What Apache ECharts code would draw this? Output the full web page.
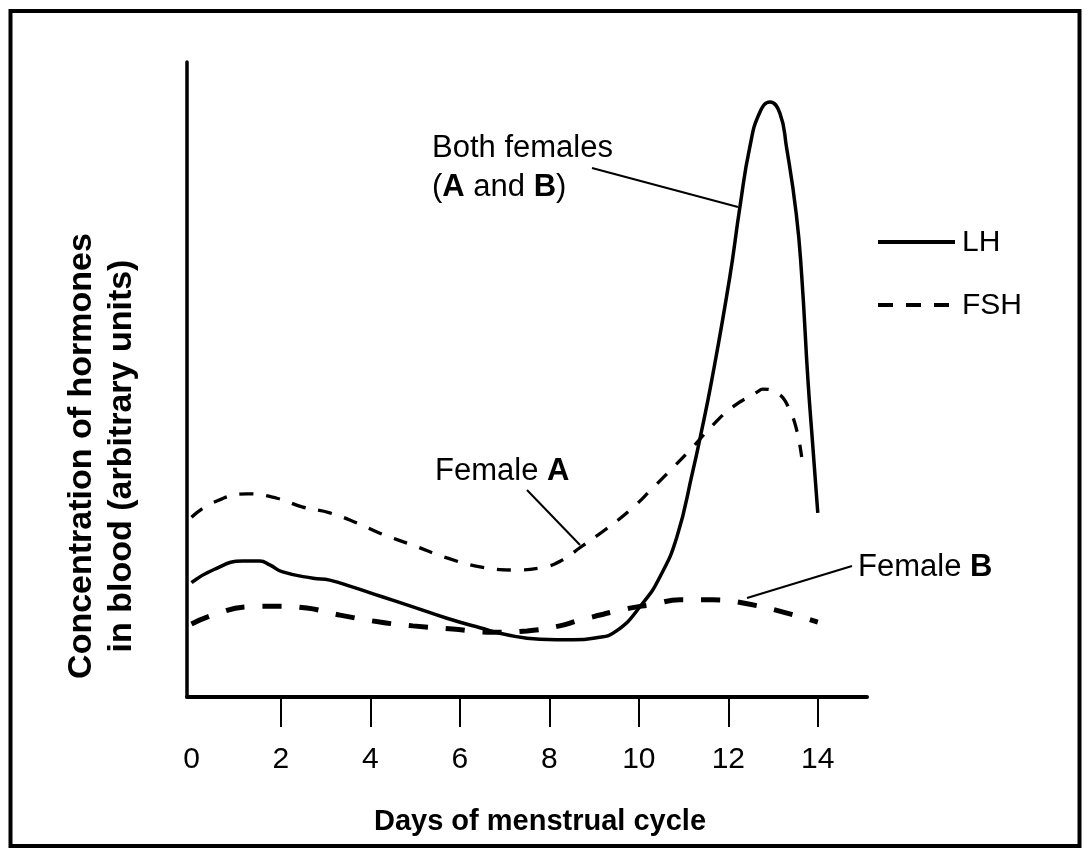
<!DOCTYPE html>
<html>
<head>
<meta charset="utf-8">
<title>LH and FSH</title>
<script src="https://cdn.jsdelivr.net/npm/echarts@6/dist/echarts.min.js"></script>
<style>
  html, body { margin: 0; padding: 0; background: #fff; }
  #chart { width: 1090px; height: 856px; }
</style>
</head>
<body>
<div id="chart"></div>
<script>
// days of cycle and concentration (arbitrary units, 0-100)
var lhDays   = [0, 0.48, 1.15, 1.53, 1.75, 2.04, 2.72, 3.09, 3.61, 4.21, 4.95, 5.71, 6.45, 7.05, 7.79, 8.53, 9.02, 9.5, 10.09, 10.47, 10.85, 11.21, 11.36, 11.63, 12.03, 12.26, 12.48, 12.7, 12.93, 13.15, 13.3, 13.52, 13.64, 13.78, 13.89, 14.0];
var lhValues = [18.0, 20.0, 21.4, 21.4, 20.8, 19.7, 18.7, 18.4, 17.3, 15.9, 14.2, 12.4, 10.9, 9.8, 9.1, 9.0, 9.3, 10.4, 14.8, 18.9, 25.2, 35.7, 40.5, 49.9, 66.0, 77.2, 86.6, 92.0, 93.7, 92.0, 86.6, 76.0, 66.4, 49.9, 39.4, 29.0];

var fshADays   = [0, 0.48, 1.24, 1.91, 2.49, 3.09, 3.7, 4.21, 4.95, 5.71, 6.45, 7.18, 7.79, 8.3, 8.68, 9.24, 9.8, 10.31, 10.76, 11.21, 11.65, 12.1, 12.64, 12.77, 13.15, 13.37, 13.53, 13.64];
var fshAValues = [28.3, 30.6, 32.0, 31.3, 29.9, 29.0, 27.4, 25.8, 23.9, 21.9, 20.5, 20.0, 20.3, 21.6, 23.5, 26.3, 29.4, 32.9, 36.1, 39.4, 42.8, 45.7, 48.0, 48.5, 47.6, 45.2, 42.0, 37.8];

var fshBDays   = [0, 0.48, 1.24, 1.82, 2.58, 3.32, 4.21, 4.95, 5.84, 6.74, 7.5, 8.23, 8.68, 9.8, 10.25, 10.92, 11.65, 12.48, 13.31, 14.0];
var fshBValues = [11.5, 12.9, 14.2, 14.3, 14.0, 12.9, 11.8, 11.2, 10.7, 10.2, 10.4, 11.2, 12.1, 14.0, 14.5, 15.3, 15.3, 14.6, 13.2, 11.8];

var xLabelDays = [0, 2, 4, 6, 8, 10, 12, 14];
var xTickDays  = [2, 4, 6, 8, 10, 12, 14];

var FONT = '"Liberation Sans", Arial, Helvetica, sans-serif';

function zip(xs, ys) {
    return xs.map(function (x, i) { return [x, ys[i]]; });
}

var myChart = echarts.init(document.getElementById('chart'), null, { renderer: 'canvas' });

var option = {
    animation: false,
    backgroundColor: '#fff',
    grid: { left: 187, top: 62, width: 680, height: 635, containLabel: false },
    xAxis: {
        type: 'value',
        min: -0.1,
        max: 15.1,
        axisLine: { show: true, onZero: false, lineStyle: { color: '#000', width: 4 } },
        axisTick: { show: true, length: 30, customValues: xTickDays, lineStyle: { color: '#000', width: 2 } },
        axisLabel: { customValues: xLabelDays, margin: 48, color: '#000', fontSize: 30, fontFamily: FONT },
        splitLine: { show: false }
    },
    yAxis: {
        type: 'value',
        min: 0,
        max: 100,
        axisLine: { show: true, onZero: false, lineStyle: { color: '#000', width: 3.5 } },
        axisTick: { show: false },
        axisLabel: { show: false },
        splitLine: { show: false }
    },
    series: [
        {
            name: 'LH',
            type: 'line',
            data: zip(lhDays, lhValues),
            showSymbol: false,
            smooth: 0.5,
            lineStyle: { color: '#000', width: 3.5 }
        },
        {
            name: 'FSH female A',
            type: 'line',
            data: zip(fshADays, fshAValues),
            showSymbol: false,
            smooth: 0.45,
            lineStyle: { color: '#000', width: 3.3, type: [14, 13] }
        },
        {
            name: 'FSH female B',
            type: 'line',
            data: zip(fshBDays, fshBValues),
            showSymbol: false,
            smooth: 0.45,
            lineStyle: { color: '#000', width: 5, type: [19, 18] }
        }
    ],
    graphic: [
        // frame
        { type: 'rect', shape: { x: 10.5, y: 11, width: 1069, height: 835 }, style: { fill: 'none', stroke: '#000', lineWidth: 4 }, silent: true },
        // axis titles
        {
            type: 'text', x: 540, y: 822,
            style: { text: 'Days of menstrual cycle', fill: '#000', fontSize: 29, fontWeight: 'bold', fontFamily: FONT, align: 'center', verticalAlign: 'middle' }
        },
        {
            type: 'text', x: 102, y: 456, rotation: Math.PI / 2,
            style: { text: 'Concentration of hormones\nin blood (arbitrary units)', fill: '#000', fontSize: 34, fontWeight: 'bold', fontFamily: FONT, align: 'center', verticalAlign: 'middle', lineHeight: 40 }
        },
        // legend
        { type: 'line', shape: { x1: 878, y1: 242, x2: 955, y2: 242 }, style: { stroke: '#000', lineWidth: 4 } },
        { type: 'text', x: 962, y: 243, style: { text: 'LH', fill: '#000', fontSize: 30, fontFamily: FONT, verticalAlign: 'middle' } },
        { type: 'line', shape: { x1: 878, y1: 305, x2: 951, y2: 305 }, style: { stroke: '#000', lineWidth: 4, lineDash: [15, 13] } },
        { type: 'text', x: 962, y: 306, style: { text: 'FSH', fill: '#000', fontSize: 30, fontFamily: FONT, verticalAlign: 'middle' } },
        // annotations
        {
            type: 'text', x: 432, y: 168,
            style: {
                text: 'Both females\n({b|A} and {b|B})', fill: '#000', fontSize: 31, fontFamily: FONT, verticalAlign: 'middle', lineHeight: 39,
                rich: { b: { fontSize: 31, fontFamily: FONT, fontWeight: 'bold', fill: '#000' } }
            }
        },
        { type: 'line', shape: { x1: 592, y1: 168, x2: 738, y2: 207 }, style: { stroke: '#000', lineWidth: 2 } },
        {
            type: 'text', x: 435, y: 471,
            style: {
                text: 'Female {b|A}', fill: '#000', fontSize: 31, fontFamily: FONT, verticalAlign: 'middle',
                rich: { b: { fontSize: 31, fontFamily: FONT, fontWeight: 'bold', fill: '#000' } }
            }
        },
        { type: 'line', shape: { x1: 527, y1: 490, x2: 580, y2: 545 }, style: { stroke: '#000', lineWidth: 2 } },
        {
            type: 'text', x: 858, y: 567,
            style: {
                text: 'Female {b|B}', fill: '#000', fontSize: 31, fontFamily: FONT, verticalAlign: 'middle',
                rich: { b: { fontSize: 31, fontFamily: FONT, fontWeight: 'bold', fill: '#000' } }
            }
        },
        { type: 'line', shape: { x1: 747, y1: 598, x2: 852, y2: 566 }, style: { stroke: '#000', lineWidth: 2 } }
    ]
};

myChart.setOption(option);
</script>
</body>
</html>
